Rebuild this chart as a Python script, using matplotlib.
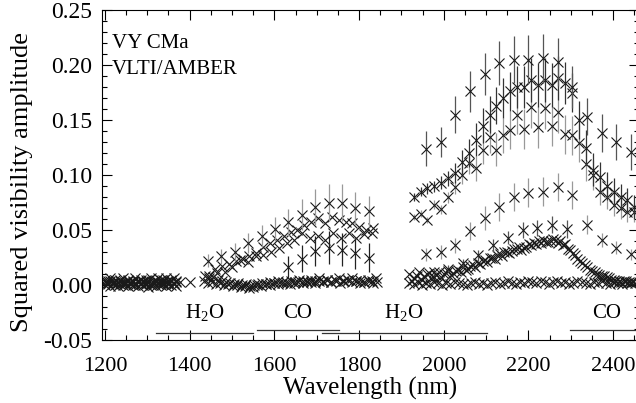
import numpy as np
import matplotlib
matplotlib.use("Agg")
import matplotlib.pyplot as plt
from matplotlib.ticker import MultipleLocator, FormatStrFormatter

plt.rcParams['font.family'] = ['Liberation Serif', 'DejaVu Serif']
plt.rcParams['mathtext.fontset'] = 'custom'
plt.rcParams['mathtext.rm'] = 'Liberation Serif'
plt.rcParams['axes.unicode_minus'] = False

# ---- data (wavelength range of each series in nm, squared visibilities) ----
# short end, all close to zero
short_range = [1200, 1368]
short_v1 = [0.003, 0.001, 0.004, 0.002, 0.000, 0.003, 0.005, 0.002, 0.001, 0.004, 0.003, 0.000,
            0.002, 0.004, 0.001, 0.003, 0.005, 0.002, 0.000, 0.003, 0.004, 0.001, 0.002, 0.005,
            0.003, 0.001, 0.004, 0.002, 0.003]
short_v2 = [0.000, 0.002, -0.001, 0.001, 0.003, -0.001, 0.001, 0.000, 0.002, -0.001, 0.001, 0.003,
            0.000, -0.001, 0.002, 0.000, 0.001, -0.002, 0.002, 0.000, -0.001, 0.003, 0.000, 0.001,
            -0.001, 0.002, 0.000, 0.001, -0.001]
short_v3 = [0.005, 0.004, 0.006, 0.003, 0.005, 0.002, 0.004, 0.006, 0.003, 0.005, 0.002, 0.004,
            0.006, 0.003, 0.005, 0.004, 0.002, 0.005, 0.006, 0.003, 0.004, 0.006, 0.005, 0.003,
            0.006, 0.004, 0.005, 0.006, 0.004]
short_extra_wl = [1377, 1401]
short_extra_v = [0.003, 0.003]

# H band
hz1_range = [1433, 1842]
hz1_v = [0.004, 0.002, 0.003, 0.001, 0.002, 0.000, 0.001, -0.001, 0.000, -0.002, -0.001, -0.003,
         -0.002, 0.000, -0.001, 0.001, 0.000, 0.002, 0.001, 0.002, 0.003, 0.001, 0.002, 0.003,
         0.002, 0.004, 0.003, 0.002, 0.004, 0.003, 0.005, 0.003, 0.004, 0.002, 0.004, 0.005,
         0.003, 0.004, 0.002, 0.003, 0.004, 0.002, 0.003]
hz2_range = [1437, 1840]
hz2_v = [0.008, 0.006, 0.007, 0.005, 0.004, 0.003, 0.002, 0.001, 0.002, 0.000, 0.001, -0.001,
         0.000, 0.001, 0.002, 0.001, 0.003, 0.002, 0.004, 0.003, 0.002, 0.004, 0.003, 0.005,
         0.004, 0.003, 0.005, 0.004, 0.006, 0.004, 0.005, 0.003, 0.005, 0.006, 0.004, 0.005,
         0.006, 0.004, 0.005, 0.003, 0.005, 0.004, 0.006]
h1_range = [1443, 1823]
h1_v = [0.022, 0.026, 0.030, 0.038, 0.045, 0.051, 0.057, 0.064, 0.071, 0.075, 0.075, 0.070, 0.067]
h1_err = [0.006, 0.007, 0.008, 0.009, 0.010, 0.011, 0.012, 0.014, 0.016, 0.017, 0.017, 0.015, 0.014]
h2_range = [1460, 1833]
h2_v = [0.015, 0.017, 0.019, 0.022, 0.024, 0.026, 0.029, 0.035, 0.038, 0.041, 0.045, 0.048,
        0.050, 0.055, 0.057, 0.061, 0.056, 0.062, 0.059, 0.057, 0.056, 0.053, 0.050, 0.052]
h3_range = [1446, 1830]
h3_v = [0.008, 0.011, 0.012, 0.016, 0.023, 0.021, 0.026, 0.027, 0.030, 0.034, 0.038, 0.041,
        0.047, 0.043, 0.045, 0.041, 0.047, 0.043, 0.047, 0.043, 0.046, 0.047]
h4_range = [1633, 1823]
h4_v = [0.016, 0.024, 0.031, 0.034, 0.032, 0.029, 0.025]
h4_err = [0.010, 0.012, 0.014, 0.015, 0.015, 0.014, 0.013]

# K band
s1_range = [1958, 2442]
s1_v = [0.124, 0.130, 0.155, 0.176, 0.192, 0.202, 0.205, 0.205, 0.206, 0.203, 0.180, 0.153,
        0.138, 0.130, 0.121]
s1_err = [0.016, 0.014, 0.017, 0.019, 0.019, 0.020, 0.021, 0.022, 0.022, 0.022, 0.019, 0.017,
          0.017, 0.016, 0.016]
s2_range = [1958, 2442]
s2_v = [0.028, 0.030, 0.036, 0.049, 0.061, 0.071, 0.080, 0.084, 0.085, 0.089, 0.082, 0.055,
        0.041, 0.034, 0.028]
s2_err = [0.006, 0.006, 0.007, 0.008, 0.011, 0.013, 0.013, 0.013, 0.013, 0.013, 0.013, 0.009,
          0.006, 0.006, 0.005]
s5_range = [1976, 2291]
s5_v = [0.012, 0.015, 0.020, 0.027, 0.036, 0.043, 0.050, 0.052, 0.055, 0.051]
s5_err = [0.003, 0.003, 0.004, 0.005, 0.006, 0.006, 0.007, 0.007, 0.008, 0.008]
d1_range = [1929, 2450]
d1_v = [0.080, 0.085, 0.088, 0.090, 0.093, 0.097, 0.102, 0.112, 0.120, 0.132, 0.145, 0.155,
        0.163, 0.170, 0.176, 0.180, 0.180, 0.186, 0.182, 0.186, 0.182, 0.188, 0.184, 0.175,
        0.150, 0.125, 0.105, 0.098, 0.090, 0.085, 0.080, 0.077, 0.071]
d1_err = [0.004, 0.004, 0.005, 0.005, 0.006, 0.007, 0.009, 0.011, 0.013, 0.015, 0.016, 0.017,
          0.017, 0.018, 0.018, 0.019, 0.019, 0.020, 0.020, 0.020, 0.020, 0.020, 0.019, 0.018,
          0.017, 0.016, 0.015, 0.014, 0.013, 0.012, 0.012, 0.011, 0.011]
d2_range = [1929, 2450]
d2_v = [0.062, 0.065, 0.059, 0.073, 0.069, 0.080, 0.089, 0.100, 0.111, 0.106, 0.123, 0.135,
        0.123, 0.136, 0.141, 0.155, 0.142, 0.162, 0.144, 0.161, 0.145, 0.157, 0.137, 0.136,
        0.129, 0.110, 0.100, 0.085, 0.080, 0.073, 0.070, 0.066, 0.066]
d2_err = [0.003, 0.003, 0.003, 0.004, 0.004, 0.005, 0.006, 0.008, 0.010, 0.011, 0.013, 0.015,
          0.015, 0.016, 0.017, 0.018, 0.018, 0.019, 0.019, 0.019, 0.019, 0.019, 0.018, 0.018,
          0.017, 0.015, 0.014, 0.012, 0.011, 0.010, 0.010, 0.009, 0.009]
d3_range = [1919, 2448]
d3_v = [0.010, 0.006, 0.012, 0.008, 0.011, 0.007, 0.012, 0.010, 0.013, 0.011, 0.014, 0.016,
        0.015, 0.018, 0.020, 0.022, 0.021, 0.025, 0.027, 0.026, 0.030, 0.031, 0.033, 0.032,
        0.035, 0.036, 0.037, 0.038, 0.039, 0.040, 0.041, 0.040, 0.037, 0.032, 0.027, 0.022,
        0.018, 0.014, 0.012, 0.009, 0.008, 0.006, 0.005, 0.004, 0.004, 0.003, 0.003]
d3b_range = [1925, 2442]
d3b_v = [0.004, 0.008, 0.005, 0.010, 0.006, 0.009, 0.007, 0.011, 0.009, 0.013, 0.012, 0.014,
         0.017, 0.016, 0.019, 0.023, 0.025, 0.024, 0.028, 0.030, 0.029, 0.033, 0.035, 0.034,
         0.037, 0.038, 0.040, 0.041, 0.039, 0.042, 0.038, 0.036, 0.033, 0.029, 0.024, 0.020,
         0.016, 0.013, 0.010, 0.008, 0.007, 0.005, 0.004, 0.003, 0.004, 0.002]
d4_range = [1919, 2451]
d4_v = [0.002, 0.001, 0.003, 0.000, 0.002, 0.001, 0.003, 0.002, 0.000, 0.002, 0.001, 0.003,
        0.002, 0.001, 0.000, 0.002, 0.003, 0.001, 0.002, 0.000, 0.002, 0.003, 0.001, 0.002,
        0.004, 0.002, 0.001, 0.003, 0.002, 0.004, 0.003, 0.002, 0.004, 0.003, 0.001, 0.003,
        0.004, 0.002, 0.003, 0.001, 0.002, 0.004, 0.003, 0.002, 0.001, 0.003, 0.002, 0.004,
        0.002, 0.001, 0.003, 0.002, 0.001, 0.002, 0.003, 0.002]

# molecular bands marked under the data
band_names = ["H$_2$O", "CO", "H$_2$O", "CO"]
band_label_wl = [1436, 1656, 1906, 2385]
band_start = [1320, 1559, 1712, 2298]
band_end = [1549, 1753, 2102, 2480]
band_line_v = [-0.0436, -0.041, -0.044, -0.041]
band_label_v = -0.026

MK = '#1a1a1a'


def plot_series(ax, wl_range, vals, err=None, ecolor='#333333'):
    wl = np.linspace(wl_range[0], wl_range[1], len(vals))
    if err is not None:
        ax.errorbar(wl, vals, yerr=err, fmt='none', ecolor=ecolor, elinewidth=0.9)
    ax.plot(wl, vals, 'x', color=MK, ms=6.5, mew=0.8)


fig = plt.figure(figsize=(6.36, 4.03), dpi=100)
ax = fig.add_axes([102 / 636, 63 / 403, 537 / 636, 330 / 403])

plot_series(ax, short_range, short_v1)
plot_series(ax, short_range, short_v2)
plot_series(ax, short_range, short_v3)
ax.plot(short_extra_wl, short_extra_v, 'x', color=MK, ms=6.5, mew=0.8)

plot_series(ax, hz1_range, hz1_v)
plot_series(ax, hz2_range, hz2_v)
plot_series(ax, h3_range, h3_v)
plot_series(ax, h2_range, h2_v)
plot_series(ax, h4_range, h4_v, h4_err, '#222222')
plot_series(ax, h1_range, h1_v, h1_err, '#999999')

plot_series(ax, d4_range, d4_v)
plot_series(ax, d3_range, d3_v)
plot_series(ax, d3b_range, d3b_v)
plot_series(ax, s5_range, s5_v, s5_err, '#555555')
plot_series(ax, s2_range, s2_v, s2_err, '#999999')
plot_series(ax, d2_range, d2_v, d2_err, '#999999')
plot_series(ax, d1_range, d1_v, d1_err, '#333333')
plot_series(ax, s1_range, s1_v, s1_err, '#555555')

for name, xl, x0, x1, yl in zip(band_names, band_label_wl, band_start, band_end, band_line_v):
    ax.text(xl, band_label_v, name, fontsize=15, ha='center', va='center')
    ax.plot([x0, x1], [yl, yl], color='#333333', lw=0.9)

ax.text(0.019, 0.90, "VY CMa", transform=ax.transAxes, fontsize=15, va='center')
ax.text(0.019, 0.821, "VLTI/AMBER", transform=ax.transAxes, fontsize=15, va='center')

ax.set_xlim(1193, 2461)
ax.set_ylim(-0.05, 0.25)
ax.xaxis.set_major_locator(MultipleLocator(200))
ax.xaxis.set_minor_locator(MultipleLocator(50))
ax.yaxis.set_major_locator(MultipleLocator(0.05))
ax.yaxis.set_minor_locator(MultipleLocator(0.01))
ax.yaxis.set_major_formatter(FormatStrFormatter('%.2f'))
ax.tick_params(which='both', direction='in', top=True, right=True, width=0.8, labelsize=16)
ax.tick_params(axis='y', labelsize=17)
ax.tick_params(which='major', length=7)
ax.tick_params(which='minor', length=3.5)
ax.tick_params(axis='x', pad=12)
ax.tick_params(axis='y', pad=7)
for sp in ax.spines.values():
    sp.set_linewidth(0.8)

ax.set_xlabel("Wavelength (nm)", fontsize=18)
ax.set_ylabel("Squared visibility amplitude", fontsize=19)
ax.xaxis.set_label_coords(0.5, -0.112)
ax.yaxis.set_label_coords(-0.128, 0.48)

fig.savefig("out.png", dpi=100)
